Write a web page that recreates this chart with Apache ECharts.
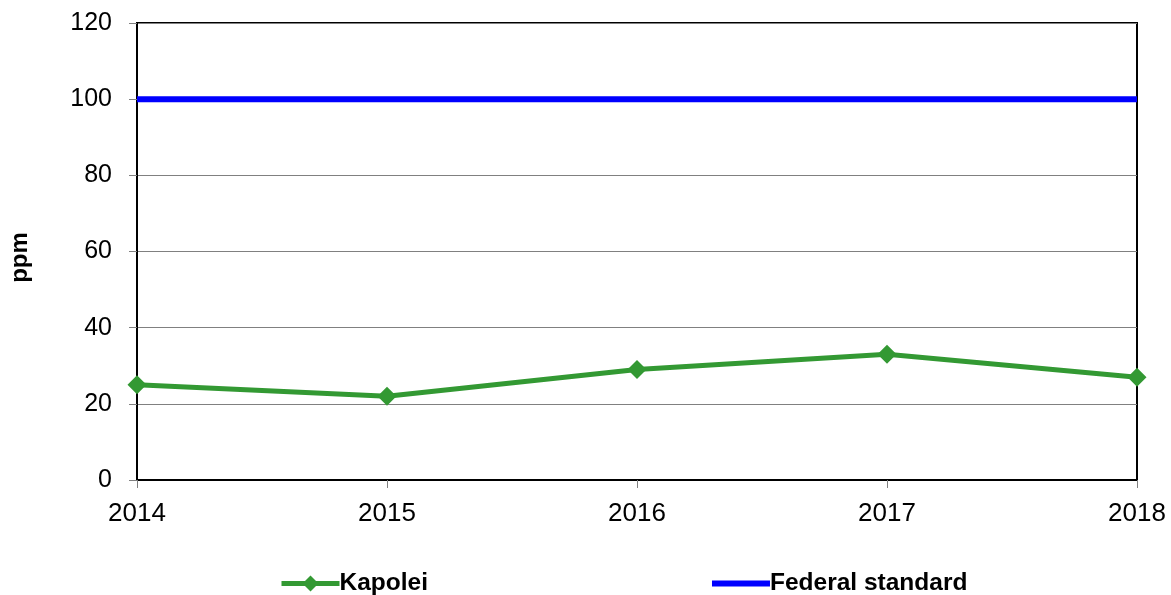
<!DOCTYPE html>
<html>
<head>
<meta charset="utf-8">
<script src="https://cdn.jsdelivr.net/npm/echarts@6/dist/echarts.min.js"></script>
<style>
  html, body { margin: 0; padding: 0; background: #fff; }
  #chart { width: 1171px; height: 595px; }
</style>
</head>
<body>
<div id="chart"></div>
<script>
// data
const years = ['2014', '2015', '2016', '2017', '2018'];
const kapolei = [25, 22, 29, 33, 27];
const federalStandard = [100, 100, 100, 100, 100];

const chart = echarts.init(document.getElementById('chart'));

const option = {
    backgroundColor: '#fff',
    textStyle: { fontFamily: '"Liberation Sans", Arial, sans-serif' },
    grid: {
        left: 137, right: 34, top: 23, bottom: 115,
        outerBoundsMode: 'none',
        containLabel: false,
        show: true, borderColor: '#000', borderWidth: 2
    },
    legend: {
        left: 274, top: 566,
        itemWidth: 58, itemHeight: 20, itemGap: 281,
        textStyle: { fontSize: 24.5, fontWeight: 'bold', color: '#000', padding: [0, 0, 0, -5] },
        data: [
            { name: 'Kapolei', lineStyle: { width: 5, color: '#339933' } },
            { name: 'Federal standard', lineStyle: { width: 6, color: '#0000ff' }, itemStyle: { opacity: 0 } }
        ]
    },
    xAxis: {
        type: 'category',
        data: years,
        boundaryGap: false,
        axisLine: { lineStyle: { color: '#000', width: 2 } },
        axisTick: { show: true, length: 8, lineStyle: { color: '#808080' } },
        axisLabel: { fontSize: 26, color: '#000', margin: 21 },
        splitLine: { show: false }
    },
    yAxis: {
        type: 'value',
        min: 0, max: 120, interval: 20,
        name: 'ppm',
        nameLocation: 'middle',
        nameGap: 105,
        nameTextStyle: { fontSize: 24, fontWeight: 'bold', color: '#000', padding: [0, 12, 0, 0] },
        axisLine: { show: true, lineStyle: { color: '#000', width: 2 } },
        axisTick: { show: true, length: 8, lineStyle: { color: '#808080' } },
        axisLabel: { fontSize: 25, color: '#000', margin: 25 },
        splitLine: { lineStyle: { color: '#808080', width: 1 } }
    },
    series: [
        {
            name: 'Kapolei',
            type: 'line',
            data: kapolei,
            symbol: 'diamond',
            symbolSize: 19,
            lineStyle: { color: '#339933', width: 5 },
            itemStyle: { color: '#339933' },
            z: 3
        },
        {
            name: 'Federal standard',
            type: 'line',
            data: federalStandard,
            symbol: 'none',
            lineStyle: { color: '#0000ff', width: 6 },
            itemStyle: { color: '#0000ff' },
            z: 2
        }
    ]
};

chart.setOption(option);
</script>
</body>
</html>
